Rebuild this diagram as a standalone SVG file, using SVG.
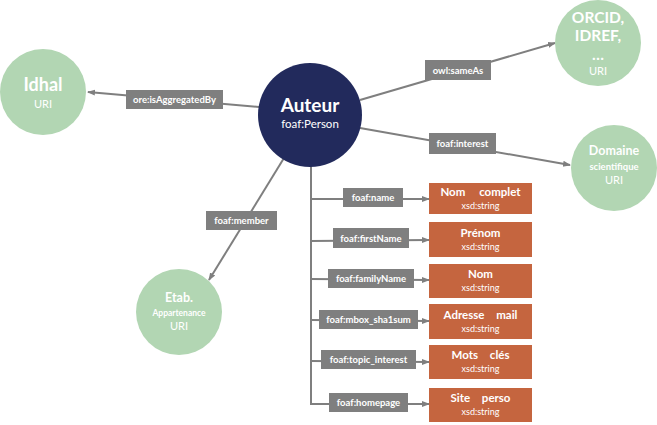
<svg xmlns="http://www.w3.org/2000/svg" width="657" height="425" viewBox="0 0 657 425">
<style>
text{font-family:Lato,"Open Sans","Liberation Sans",sans-serif;fill:#fff;text-anchor:middle}
.uri{fill:#b2d6b3}
.lbl{fill:#7f7f7f}
.lt{font-size:9.5px;font-weight:bold}
.box{fill:#c5653f}
.bt{font-size:11.5px;font-weight:bold}
.st{font-size:9px}
.big{font-size:15.5px;font-weight:bold}
.ut{font-size:11px}
.edge{stroke:#7f7f7f;stroke-width:2;fill:none}
</style>
<defs>
<marker id="ah" markerWidth="8" markerHeight="8" refX="7" refY="4" orient="auto" markerUnits="userSpaceOnUse">
<path d="M0,1 L8,4 L0,7 z" fill="#7f7f7f"/>
</marker>
</defs>
<g id="connectors">
<line class="edge" x1="259" y1="107" x2="88" y2="92" marker-end="url(#ah)"/>
<line class="edge" x1="360" y1="100" x2="555" y2="43" marker-end="url(#ah)"/>
<line class="edge" x1="360" y1="128" x2="570" y2="165" marker-end="url(#ah)"/>
<line class="edge" x1="284" y1="158" x2="209" y2="280" marker-end="url(#ah)"/>
<polyline class="edge" points="311,164 311,404 329,404"/>
<line class="edge" x1="311" y1="199" x2="429" y2="199" marker-end="url(#ah)"/>
<line class="edge" x1="311" y1="241" x2="429" y2="240" marker-end="url(#ah)"/>
<line class="edge" x1="311" y1="279" x2="429" y2="280" marker-end="url(#ah)"/>
<line class="edge" x1="311" y1="320" x2="429" y2="321" marker-end="url(#ah)"/>
<line class="edge" x1="311" y1="361" x2="429" y2="362" marker-end="url(#ah)"/>
<line class="edge" x1="408" y1="404" x2="429" y2="404" marker-end="url(#ah)"/>
</g>
<g id="labels">
<g id="lbl-isAggregatedBy"><rect class="lbl" x="126" y="90" width="97" height="19"/><text class="lt" x="174.5" y="103">ore:isAggregatedBy</text></g>
<g id="lbl-sameAs"><rect class="lbl" x="425" y="60" width="66" height="20"/><text class="lt" x="458" y="73.5">owl:sameAs</text></g>
<g id="lbl-interest"><rect class="lbl" x="429" y="133" width="67" height="21"/><text class="lt" x="462.5" y="147">foaf:interest</text></g>
<g id="lbl-member"><rect class="lbl" x="206" y="211" width="71" height="19"/><text class="lt" x="241.5" y="224">foaf:member</text></g>
<g id="lbl-name"><rect class="lbl" x="343" y="188" width="60" height="19"/><text class="lt" x="373" y="201">foaf:name</text></g>
<g id="lbl-firstName"><rect class="lbl" x="333" y="228" width="76" height="20"/><text class="lt" x="371" y="241.5">foaf:firstName</text></g>
<g id="lbl-familyName"><rect class="lbl" x="328" y="269" width="86" height="19"/><text class="lt" x="371" y="282">foaf:familyName</text></g>
<g id="lbl-mbox"><rect class="lbl" x="319" y="310" width="99" height="19"/><text class="lt" x="368.5" y="323">foaf:mbox_sha1sum</text></g>
<g id="lbl-topic"><rect class="lbl" x="321" y="350" width="95" height="19"/><text class="lt" x="368.5" y="363">foaf:topic_interest</text></g>
<g id="lbl-homepage"><rect class="lbl" x="329" y="393" width="79" height="19"/><text class="lt" x="368.5" y="406">foaf:homepage</text></g>
</g>
<g id="idhal"><circle class="uri" cx="43" cy="92" r="43"/><text class="big" x="43" y="91" style="font-size:18px">Idhal</text><text class="ut" x="43" y="108">URI</text></g>
<g id="auteur"><circle cx="310" cy="115" r="52" fill="#222a5c"/><text x="310" y="112" style="font-size:19px;font-weight:bold">Auteur</text><text x="310" y="128" style="font-size:11.5px">foaf:Person</text></g>
<g id="orcid"><circle class="uri" cx="598" cy="43" r="43"/><text class="big" x="598" y="23">ORCID,</text><text class="big" x="598" y="41">IDREF,</text><text class="big" x="598" y="60">…</text><text class="ut" x="598" y="75">URI</text></g>
<g id="domaine"><circle class="uri" cx="614" cy="168" r="43"/><text x="614" y="155" style="font-size:12.5px;font-weight:bold">Domaine</text><text x="614" y="170" style="font-size:9.5px;font-weight:bold">scientifique</text><text class="ut" x="614" y="184">URI</text></g>
<g id="etab"><circle class="uri" cx="179" cy="312" r="43"/><text x="179" y="302" style="font-size:12.5px;font-weight:bold">Etab.</text><text x="179" y="316" style="font-size:8.5px;font-weight:bold">Appartenance</text><text class="ut" x="179" y="330">URI</text></g>
<g id="nom-complet"><rect class="box" x="429" y="183" width="103" height="31"/><text class="bt" x="480.5" y="196" word-spacing="11">Nom complet</text><text class="st" x="480.5" y="208.5">xsd:string</text></g>
<g id="prenom"><rect class="box" x="429" y="222" width="103" height="35"/><text class="bt" x="480.5" y="237">Prénom</text><text class="st" x="480.5" y="250">xsd:string</text></g>
<g id="nom"><rect class="box" x="429" y="264" width="103" height="34"/><text class="bt" x="480.5" y="278">Nom</text><text class="st" x="480.5" y="291">xsd:string</text></g>
<g id="adresse"><rect class="box" x="429" y="304" width="103" height="35"/><text class="bt" x="480.5" y="319" word-spacing="9">Adresse mail</text><text class="st" x="480.5" y="332">xsd:string</text></g>
<g id="mots"><rect class="box" x="429" y="345" width="103" height="34"/><text class="bt" x="480.5" y="359" word-spacing="9">Mots clés</text><text class="st" x="480.5" y="372">xsd:string</text></g>
<g id="site"><rect class="box" x="429" y="388" width="103" height="34"/><text class="bt" x="480.5" y="402" word-spacing="9">Site perso</text><text class="st" x="480.5" y="415">xsd:string</text></g>
</svg>
